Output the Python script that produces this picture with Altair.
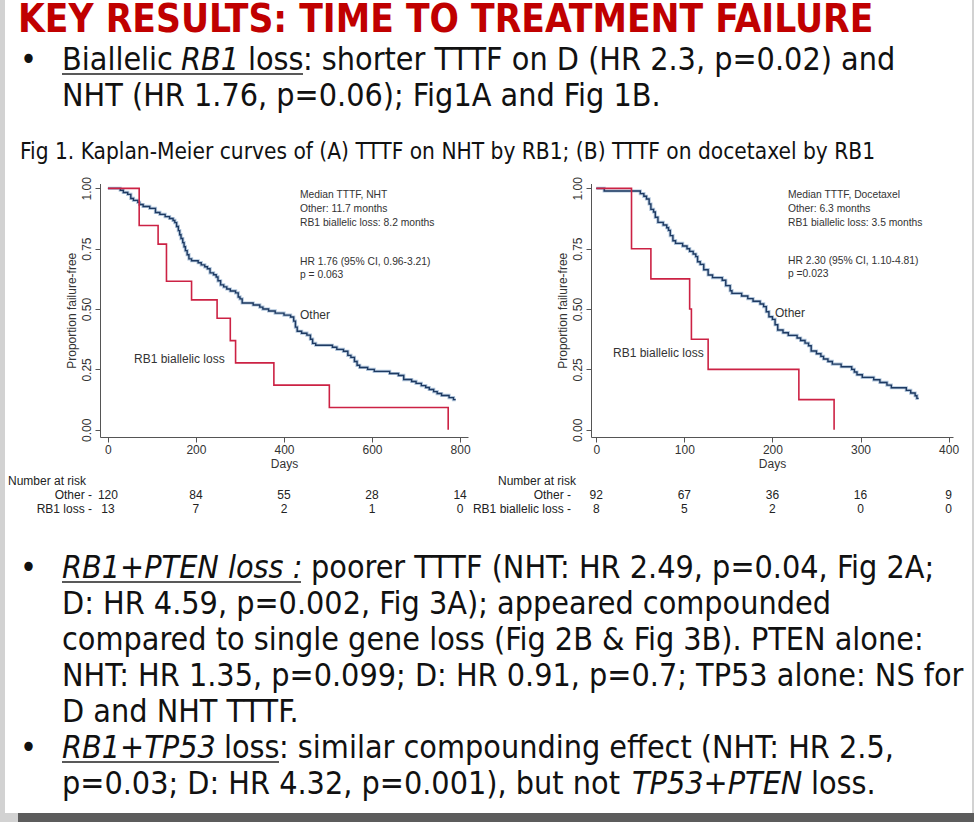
import altair as alt
import pandas as pd

# ---------------- data ----------------
# Fig 1A: TTTF on NHT
nht_other_days = [0, 28, 35, 45, 52, 58, 68, 72, 80, 95, 108, 118, 130, 140, 148, 152, 156, 160,
                  163, 166, 170, 173, 176, 180, 184, 190, 205, 212, 220, 226, 232, 240, 246, 250,
                  256, 263, 270, 278, 290, 296, 300, 305, 330, 345, 352, 365, 380, 400, 415, 422,
                  426, 430, 440, 452, 460, 465, 472, 510, 520, 535, 545, 552, 560, 566, 572, 590,
                  605, 640, 660, 672, 690, 700, 712, 722, 730, 740, 748, 758, 775, 785, 790]
nht_other_surv = [1.0, 0.992, 0.983, 0.975, 0.958, 0.95, 0.942, 0.933, 0.925, 0.917, 0.90, 0.892,
                  0.883, 0.875, 0.867, 0.858, 0.842, 0.825, 0.808, 0.792, 0.775, 0.758, 0.742,
                  0.725, 0.708, 0.70, 0.692, 0.683, 0.675, 0.667, 0.65, 0.642, 0.633, 0.617, 0.60,
                  0.592, 0.583, 0.575, 0.567, 0.55, 0.542, 0.525, 0.517, 0.508, 0.50, 0.492, 0.483,
                  0.475, 0.467, 0.45, 0.425, 0.408, 0.40, 0.392, 0.375, 0.358, 0.35, 0.342, 0.333,
                  0.325, 0.308, 0.30, 0.283, 0.267, 0.258, 0.25, 0.242, 0.233, 0.225, 0.208, 0.20,
                  0.192, 0.183, 0.175, 0.167, 0.158, 0.15, 0.142, 0.133, 0.125, 0.125]
nht_rb1_days = [0, 71, 114, 133, 190, 248, 278, 290, 377, 503, 773]
nht_rb1_surv = [1.0, 0.846, 0.769, 0.615, 0.538, 0.462, 0.369, 0.277, 0.185, 0.092, 0.0]

# Fig 1B: TTTF on docetaxel
doc_other_days = [0, 9, 50, 54, 57, 60, 62, 65, 67, 70, 76, 80, 82, 84, 87, 90, 98, 103, 106, 110,
                  113, 115, 118, 122, 127, 132, 143, 147, 152, 154, 165, 172, 178, 186, 190, 193,
                  196, 200, 203, 206, 212, 218, 228, 232, 237, 241, 244, 250, 255, 258, 263, 268,
                  278, 290, 293, 296, 302, 315, 322, 330, 335, 352, 357, 362, 364, 366]
doc_other_surv = [1.0, 0.989, 0.978, 0.967, 0.956, 0.935, 0.913, 0.902, 0.88, 0.859, 0.848, 0.837,
                  0.826, 0.804, 0.783, 0.772, 0.761, 0.75, 0.739, 0.728, 0.717, 0.696, 0.685,
                  0.663, 0.641, 0.63, 0.619, 0.597, 0.576, 0.565, 0.554, 0.543, 0.532, 0.521,
                  0.51, 0.489, 0.468, 0.457, 0.435, 0.413, 0.402, 0.391, 0.38, 0.37, 0.359, 0.348,
                  0.326, 0.315, 0.304, 0.293, 0.283, 0.272, 0.261, 0.25, 0.239, 0.228, 0.217,
                  0.207, 0.196, 0.185, 0.174, 0.163, 0.152, 0.141, 0.13, 0.13]
doc_rb1_days = [0, 40, 62, 106, 108, 127, 230, 270]
doc_rb1_surv = [1.0, 0.75, 0.625, 0.5, 0.375, 0.25, 0.125, 0.0]

# number at risk tables
nht_risk_days = [0, 200, 400, 600, 800]
nht_risk_other = [120, 84, 55, 28, 14]
nht_risk_rb1 = [13, 7, 2, 1, 0]
doc_risk_days = [0, 100, 200, 300, 400]
doc_risk_other = [92, 67, 36, 16, 9]
doc_risk_rb1 = [8, 5, 2, 0, 0]
y_ticks = [0, 0.25, 0.5, 0.75, 1.0]

# ---------------- styling ----------------
NARROW = "'DejaVu Sans Condensed', 'Liberation Sans Narrow', sans-serif"
SANS = "'Liberation Sans', Arial, Helvetica, sans-serif"
BLUE = "#1e3a62"
HALO = "#9db6d2"
RED = "#cc2244"
TITLE_RED = "#c00000"
ANN = "#333333"

one = alt.Data(values=[{"k": 1}])


def text_mark(s, x, y, size, font=NARROW, style="normal", weight="normal",
              color="#111111", align="left", baseline="alphabetic"):
    return alt.Chart(one).mark_text(
        text=s, font=font, fontSize=size, fontStyle=style, fontWeight=weight,
        color=color, align=align, baseline=baseline
    ).encode(x=alt.value(x), y=alt.value(y))


def rule_mark(x1, x2, y, color="#222222", width=1.5):
    return alt.Chart(one).mark_rule(color=color, strokeWidth=width).encode(
        x=alt.value(x1), x2=alt.value(x2), y=alt.value(y))


def rect_mark(x1, x2, y1, y2, color):
    return alt.Chart(one).mark_rect(color=color).encode(
        x=alt.value(x1), x2=alt.value(x2), y=alt.value(y1), y2=alt.value(y2))


AX = dict(grid=False, labelFlush=False, labelOverlap=False, tickSize=5, labelPadding=2,
          domainColor="#555555", tickColor="#555555", labelColor="#333333",
          titleColor="#333333", labelFont=SANS, titleFont=SANS, labelFontSize=12,
          titleFontSize=12, titleFontWeight="normal", zindex=1)


def km_panel(o_days, o_surv, r_days, r_surv, x_domain, x_range, x_ticks, y_axis_x,
             risk_days, risk_o, risk_r, risk_label_x, rb1_label, notes, other_lab, rb1_lab):
    xs = alt.Scale(domain=x_domain, range=x_range, nice=False, zero=False)
    ys = alt.Scale(domain=[-0.03, 1.02], range=[437, 183.5], nice=False, zero=False)
    xa = alt.Axis(values=x_ticks, orient="bottom", offset=-385, title="Days",
                  titlePadding=3, format="d", **AX)
    ya = alt.Axis(values=y_ticks, orient="left", offset=-y_axis_x, format=".2f",
                  title="Proportion failure-free", labelAngle=270, labelAlign="center",
                  labelBaseline="bottom", titlePadding=2, **AX)
    df_o = pd.DataFrame({"day": o_days, "surv": o_surv})
    df_r = pd.DataFrame({"day": r_days, "surv": r_surv})
    df_risk = pd.DataFrame({"day": risk_days, "n_other": risk_o, "n_rb1": risk_r})
    X = alt.X("day:Q", scale=xs, axis=xa)
    Y = alt.Y("surv:Q", scale=ys, axis=ya)
    halo = alt.Chart(df_o).mark_line(interpolate="step-after", color=HALO, strokeWidth=3.2,
                                     opacity=0.8).encode(x=X, y=Y)
    other = alt.Chart(df_o).mark_line(interpolate="step-after", color=BLUE,
                                      strokeWidth=1.4).encode(x=X, y=Y)
    rb1 = alt.Chart(df_r).mark_line(interpolate="step-after", color=RED,
                                    strokeWidth=1.6).encode(x=X, y=Y)
    risk1 = alt.Chart(df_risk).mark_text(font=SANS, fontSize=12, color="#222222",
                                         baseline="middle").encode(
        x=X, y=alt.value(495), text="n_other:Q")
    risk2 = alt.Chart(df_risk).mark_text(font=SANS, fontSize=12, color="#222222",
                                         baseline="middle").encode(
        x=X, y=alt.value(509), text="n_rb1:Q")
    layers = [halo, other, rb1, risk1, risk2,
              text_mark("Number at risk", risk_label_x[0], 481, 12, SANS, color="#222222",
                        baseline="middle"),
              text_mark("Other -", risk_label_x[1], 495, 12, SANS, color="#222222",
                        align="right", baseline="middle"),
              text_mark(rb1_label, risk_label_x[1], 509, 12, SANS, color="#222222",
                        align="right", baseline="middle")]
    for (s, x, y) in notes:
        layers.append(text_mark(s, x, y, 10.3, SANS, color=ANN, baseline="middle"))
    layers.append(text_mark("Other", other_lab[0], other_lab[1], 12, SANS, color=ANN,
                            baseline="middle"))
    layers.append(text_mark("RB1 biallelic loss", rb1_lab[0], rb1_lab[1], 12, SANS,
                            color=ANN, baseline="middle"))
    return alt.layer(*layers)


panel_a = km_panel(
    nht_other_days, nht_other_surv, nht_rb1_days, nht_rb1_surv,
    [-18, 818], [100, 468], nht_risk_days, 100,
    nht_risk_days, nht_risk_other, nht_risk_rb1, (8, 92), "RB1 loss -",
    [("Median  TTTF, NHT", 300, 195), ("Other: 11.7 months", 300, 209),
     ("RB1 biallelic loss: 8.2 months", 300, 223),
     ("HR 1.76 (95% CI, 0.96-3.21)", 300, 262), ("p = 0.063", 300, 275)],
    (300, 315), (134, 359))

panel_b = km_panel(
    doc_other_days, doc_other_surv, doc_rb1_days, doc_rb1_surv,
    [-6, 405], [591, 953], doc_risk_days, 591,
    doc_risk_days, doc_risk_other, doc_risk_rb1, (498, 571), "RB1 biallelic loss -",
    [("Median TTTF, Docetaxel", 788, 195), ("Other: 6.3 months", 788, 209),
     ("RB1 biallelic loss: 3.5 months", 788, 223),
     ("HR 2.30 (95% CI, 1.10-4.81)", 788, 261), ("p =0.023", 788, 274)],
    (775, 313), (613, 353))

BODY = 32
slide = [
    rect_mark(5, 972, 0, 813, "#ffffff"),
    rect_mark(18, 974, 813, 822, "#5c5c5c"),
    text_mark("KEY RESULTS: TIME TO TREATMENT FAILURE", 18, 32, 38.5, weight="bold",
              color=TITLE_RED),
    text_mark("\u2022", 20, 70, BODY),
    text_mark("Biallelic", 62, 70, BODY),
    text_mark("RB1", 181, 70, BODY, style="italic"),
    text_mark("loss", 248, 70, BODY),
    text_mark(": shorter TTTF on D (HR 2.3, p=0.02) and", 303, 70, BODY),
    rule_mark(62, 303, 74),
    text_mark("NHT (HR 1.76, p=0.06); Fig1A and Fig 1B.", 62, 106, BODY),
    text_mark("Fig 1. Kaplan-Meier curves of (A) TTTF on NHT by RB1; (B) TTTF on docetaxel by RB1",
              20, 159, 22.5),
    text_mark("\u2022", 20, 578, BODY),
    text_mark("RB1+PTEN loss :", 62, 578, BODY, style="italic"),
    rule_mark(62, 301, 582),
    text_mark("poorer TTTF (NHT: HR 2.49, p=0.04, Fig 2A;", 311, 578, BODY),
    text_mark("D: HR 4.59, p=0.002, Fig 3A); appeared compounded", 62, 614, BODY),
    text_mark("compared to single gene loss (Fig 2B & Fig 3B). PTEN alone:", 62, 650, BODY),
    text_mark("NHT: HR 1.35, p=0.099; D: HR 0.91, p=0.7; TP53 alone: NS for", 62, 686, BODY),
    text_mark("D and NHT TTTF.", 62, 722, BODY),
    text_mark("\u2022", 20, 758, BODY),
    text_mark("RB1+TP53", 62, 758, BODY, style="italic"),
    text_mark("loss", 224, 758, BODY),
    rule_mark(62, 279, 762),
    text_mark(": similar compounding effect (NHT: HR 2.5,", 279, 758, BODY),
    text_mark("p=0.03; D: HR 4.32, p=0.001), but not", 62, 794, BODY),
    text_mark("TP53+PTEN", 632, 794, BODY, style="italic"),
    text_mark("loss.", 811, 794, BODY),
]

chart = alt.layer(*slide[:2], panel_a, panel_b, *slide[2:]).resolve_scale(
    x="independent", y="independent"
).properties(
    width=974, height=822, padding=0,
    autosize=alt.AutoSizeParams(type="none"),
    background="#d2d2d2",
).configure_view(strokeWidth=0)

chart.save("out.html", embed_options={"renderer": "svg", "actions": False})
